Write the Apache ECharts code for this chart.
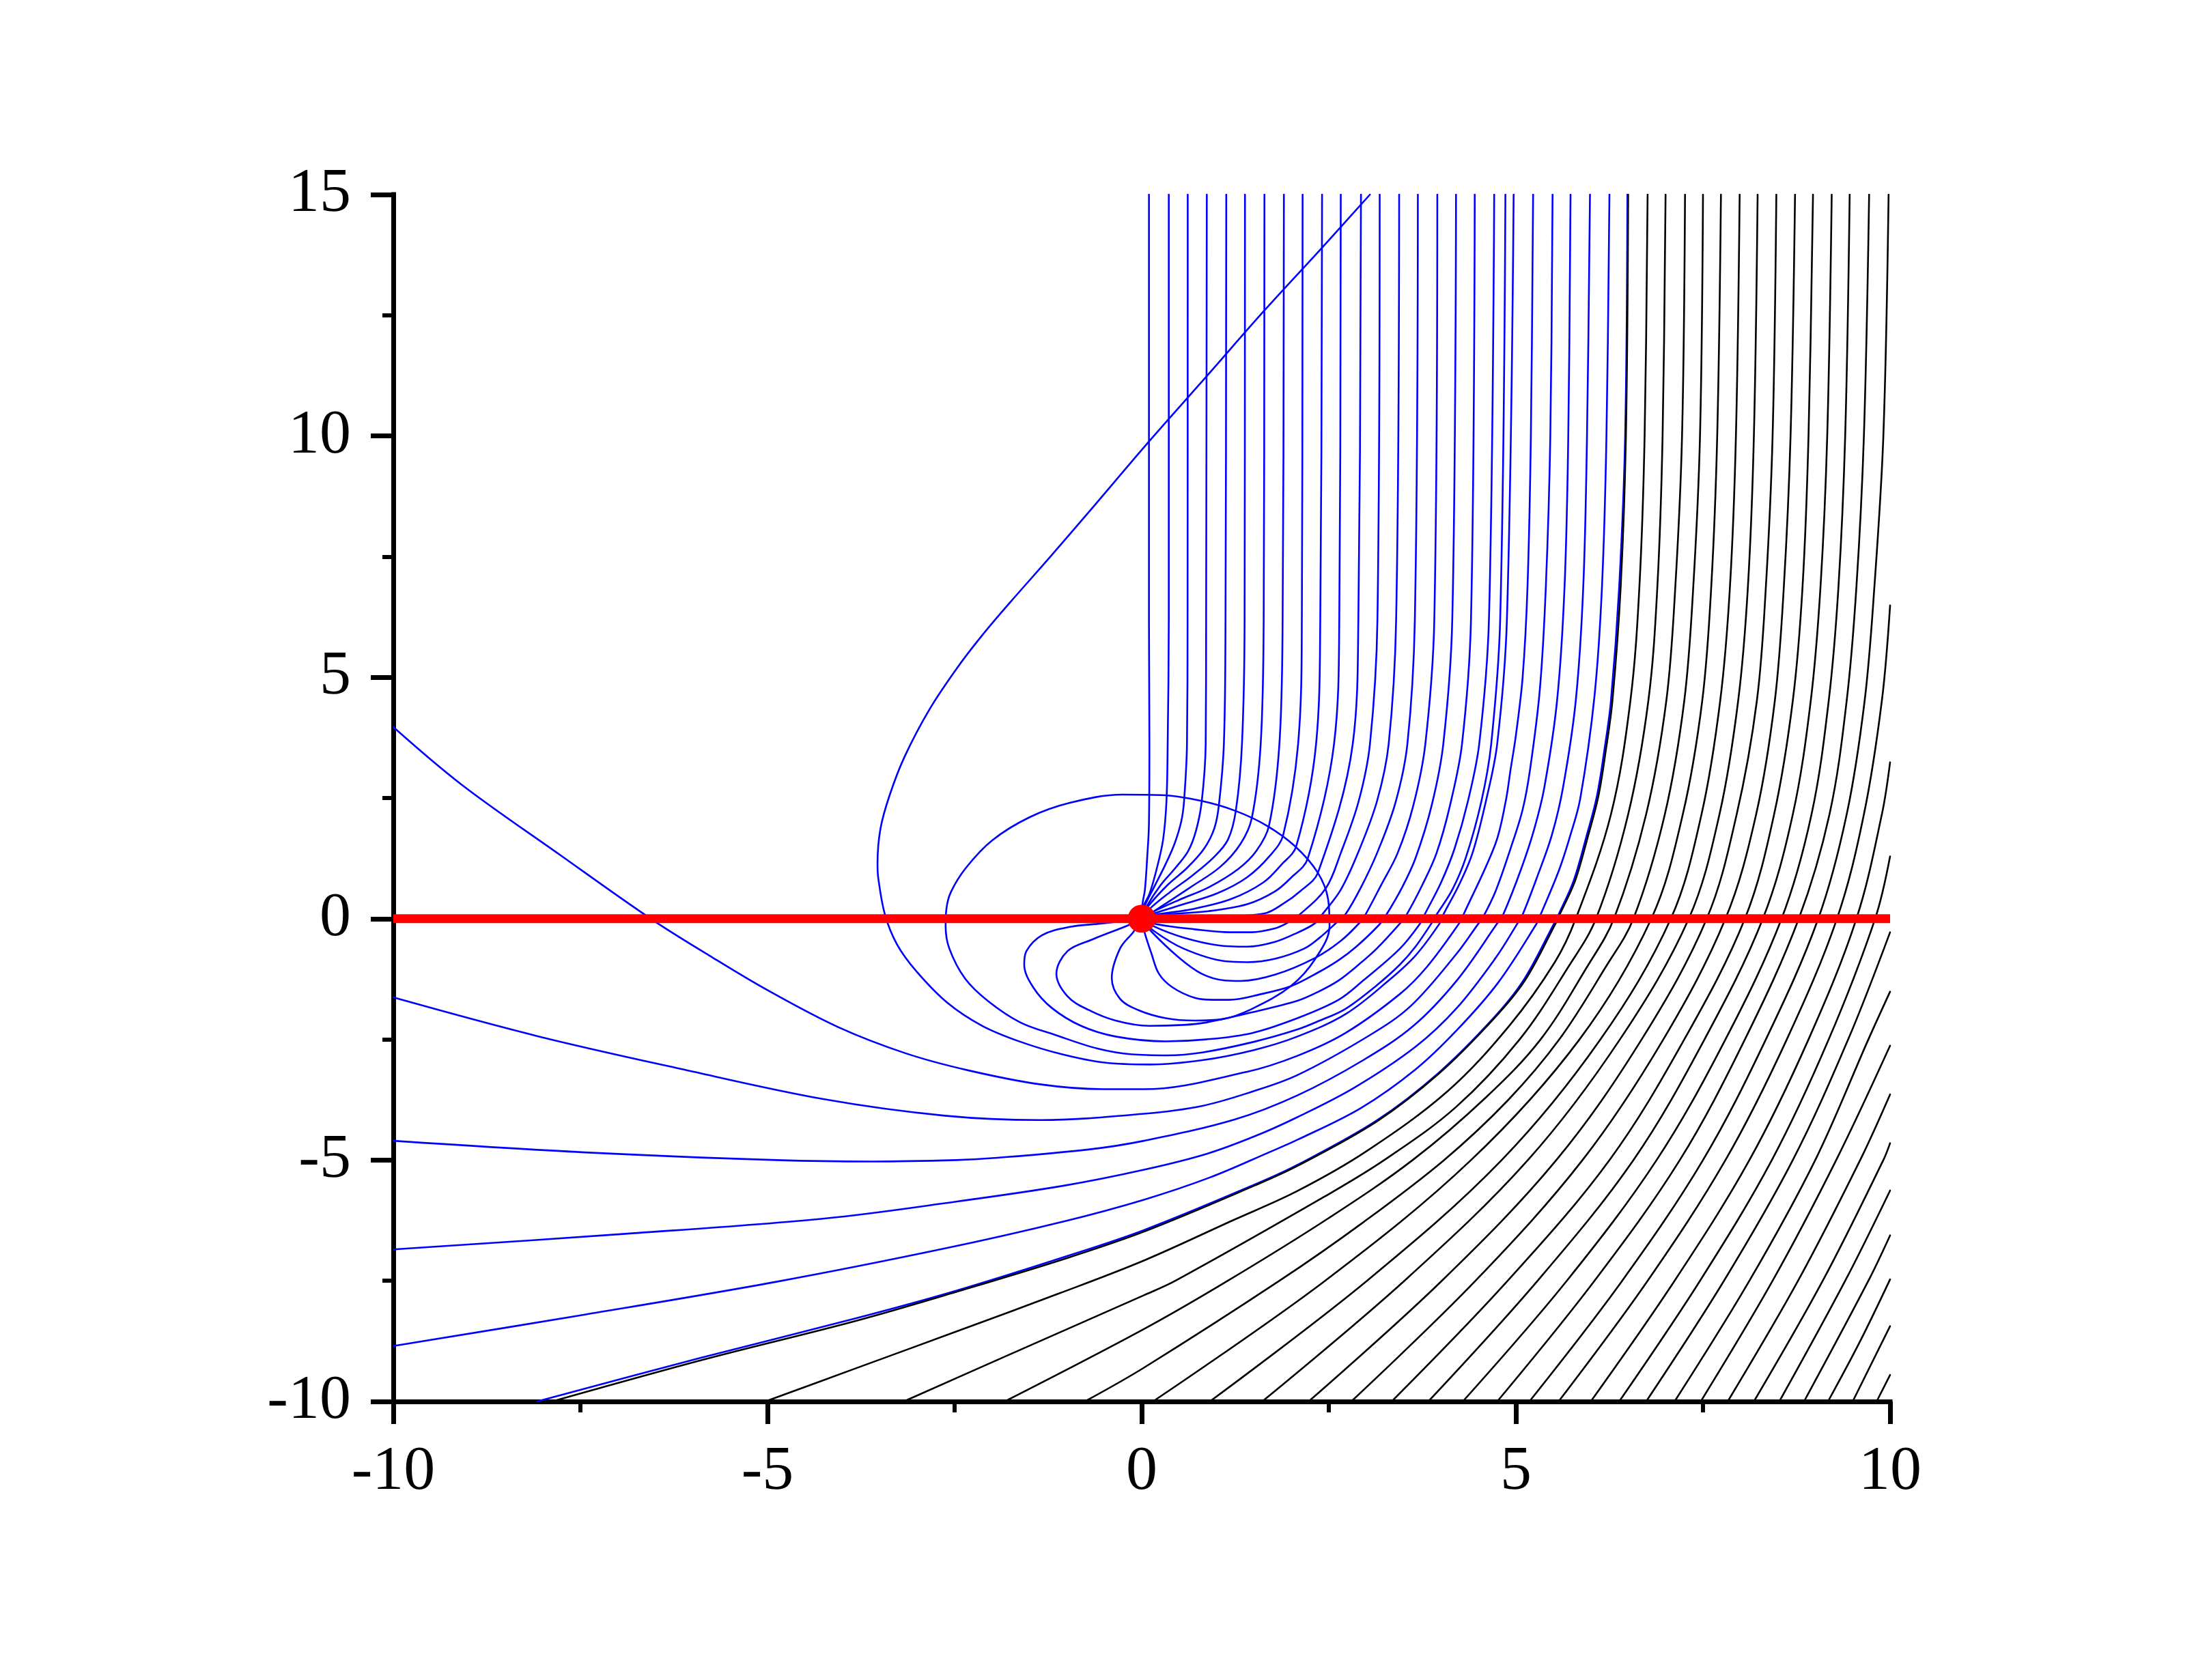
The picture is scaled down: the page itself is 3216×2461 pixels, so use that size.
<!DOCTYPE html>
<html><head><meta charset="utf-8">
<style>html,body{margin:0;padding:0;background:#fff}#c{width:3216px;height:2461px}</style>
<script src="https://cdn.jsdelivr.net/npm/echarts@6/dist/echarts.min.js"></script>
</head><body><div id="c"></div>
<script>
const xTicks=[-10,-5,0,5,10];
const yTicks=[-10,-5,0,5,10,15];
// blue fan from the origin
const F1=[[0,0],[.012,.32],[.043,.6],[.073,1.26],[.097,1.97],[.103,3.62],[.097,6.2],[.097,10],[.097,15]];
const F2=[[0,0],[.027,.27],[.103,.51],[.2,1.03],[.286,1.64],[.331,2.44],[.347,3.62],[.362,6.2],[.362,15]];
const F3=[[0,0],[.043,.27],[.164,.65],[.316,1.12],[.438,1.55],[.529,2.02],[.566,2.44],[.605,3.62],[.613,6.2],[.615,15]];
const F4=[[0,0],[.073,.27],[.255,.7],[.438,1.03],[.62,1.4],[.727,1.83],[.803,2.44],[.855,3.62],[.861,6.2],[.87,15]];
const F5=[[0,0],[.073,.23],[.347,.7],[.605,1.05],[.833,1.45],[.97,1.87],[1.031,2.35],[1.098,3.62],[1.12,6.2],[1.13,15]];
const F6=[[0,0],[.103,.2],[.377,.55],[.681,.9],[.955,1.26],[1.153,1.64],[1.259,2.25],[1.34,3.62],[1.375,6.2],[1.38,15]];
const F7=[[0,0],[.164,.156],[.65,.65],[1.046,1.07],[1.32,1.55],[1.472,2.09],[1.59,3.62],[1.63,6.2],[1.64,15]];
const F8=[[0,0],[.134,.13],[.5,.39],[.894,.65],[1.29,1.03],[1.53,1.4],[1.7,1.92],[1.84,3.62],[1.883,6.2],[1.9,15]];
const F9=[[0,0],[.164,.11],[.56,.3],[1.016,.53],[1.41,.86],[1.716,1.31],[1.89,1.73],[2.09,3.62],[2.14,6.2],[2.15,15]];
const F10=[[0,0],[.195,.085],[.68,.2],[1.198,.41],[1.624,.75],[1.867,1.12],[2.065,1.5],[2.33,3.62],[2.386,6.2],[2.41,15]];
const F11=[[0,0],[.225,.075],[.894,.156],[1.41,.3],[1.776,.56],[1.99,.84],[2.217,1.24],[2.57,3.62],[2.64,6.2],[2.66,15]];
const F12=[[0,0],[.195,.005],[.894,.03],[1.64,.11],[1.9,.32],[2.11,.56],[2.354,.95],[2.82,3.62],[2.895,6.2],[2.93,15]];
// blue curves that dip below the axis first
const M1=[[0,0],[.195,-.113],[.71,-.22],[1.17,-.28],[1.47,-.28],[1.78,-.2],[1.93,-.1],[2.11,.085],[2.46,.63],[2.66,1.36],[2.9,2.44],[3.05,3.62],[3.15,6.2],[3.18,15]];
const M2=[[0,0],[.18,-.17],[.56,-.39],[1.02,-.55],[1.41,-.58],[1.78,-.48],[2.08,-.29],[2.31,-.1],[2.41,.085],[2.66,.6],[2.9,1.4],[3.145,2.44],[3.3,3.62],[3.4,6.2],[3.44,15]];
const M3=[[0,0],[.16,-.25],[.56,-.62],[1.11,-.88],[1.41,-.9],[1.78,-.83],[2.17,-.62],[2.38,-.39],[2.61,-.07],[2.72,.085],[2.93,.65],[3.145,1.36],[3.39,2.4],[3.55,3.62],[3.65,6.2],[3.69,15]];
const M4=[[0,0],[.12,-.25],[.5,-.81],[.8,-1.14],[1.11,-1.28],[1.32,-1.29],[1.78,-1.16],[2.32,-.81],[2.66,-.46],[2.92,-.07],[2.99,.085],[3.2,.7],[3.42,1.36],[3.63,2.35],[3.79,3.62],[3.91,6.2],[3.95,15]];
const M5=[[0,0],[.04,-.29],[.13,-.72],[.23,-1.14],[.41,-1.42],[.71,-1.64],[.95,-1.68],[1.17,-1.68],[1.6,-1.56],[1.99,-1.4],[2.35,-1.12],[2.63,-.86],[2.87,-.575],[3.17,-.13],[3.27,.085],[3.48,.65],[3.66,1.26],[3.875,2.35],[4.03,3.62],[4.15,6.2],[4.2,15]];
const M7=[[0,0],[-.17,-.13],[-.66,-.43],[-.99,-.67],[-1.14,-1.14],[-.99,-1.61],[-.71,-1.89],[-.35,-2.11],[.1,-2.22],[.56,-2.2],[.86,-2.15],[1.47,-1.94],[2.08,-1.7],[2.35,-1.52],[2.63,-1.28],[2.9,-.95],[3.14,-.62],[3.45,-.1],[3.54,.085],[3.75,.7],[3.94,1.36],[4.12,2.35],[4.28,3.62],[4.4,6.2],[4.45,15]];
const M8=[[0,0],[-.54,-.1],[-.96,-.17],[-1.33,-.34],[-1.54,-.67],[-1.57,-.95],[-1.45,-1.42],[-1.2,-1.85],[-.81,-2.22],[-.35,-2.44],[.32,-2.54],[.86,-2.5],[1.47,-2.37],[2.08,-2.06],[2.63,-1.68],[2.96,-1.28],[3.45,-.62],[3.72,-.1],[3.78,.085],[4,.75],[4.18,1.45],[4.36,2.44],[4.51,3.62],[4.64,6.2],[4.71,15]];
// the curve that wraps round the origin
const S1=[[0,0],[-.11,-.27],[-.29,-.62],[-.4,-1.23],[-.29,-1.66],[-.05,-1.89],[.32,-2.06],[.71,-2.11],[1.08,-2.08],[1.47,-1.87],[1.99,-1.4],[2.32,-.83],[2.51,-.15],[2.49,.41],[2.35,.96],[2.05,1.5],[1.68,1.92],[1.26,2.23],[.8,2.44],[.26,2.56],[-.26,2.57],[-.96,2.4],[-1.5,2.1],[-2,1.62],[-2.35,1.05],[-2.55,.55],[-2.61,.2],[-2.62,-.15],[-2.57,-.62],[-2.36,-1.24],[-2.05,-1.71],[-1.62,-2.15],[-1.15,-2.41],[-.59,-2.69],[-.13,-2.81],[.34,-2.83],[.81,-2.77],[1.5,-2.55],[2.08,-2.295],[2.38,-2.11],[2.72,-1.87],[3.14,-1.38],[3.45,-.95],[3.66,-.575],[3.87,-.1],[3.94,.085],[4.15,.6],[4.33,1.26],[4.54,2.44],[4.67,3.62],[4.79,6.2],[4.86,15]];
// the curve that leaves through the top edge
const A1=[[3.05,15],[2.41,13.9],[1.64,12.6],[.87,11.24],[.1,9.89],[-.67,8.49],[-1.22,7.5],[-1.76,6.55],[-2.1,5.93],[-2.44,5.25],[-2.83,4.35],[-3.17,3.35],[-3.37,2.55],[-3.49,1.87],[-3.53,1.15],[-3.52,.84],[-3.43,.08],[-3.27,-.53],[-3.01,-1.09],[-2.59,-1.75],[-2.13,-2.22],[-1.62,-2.55],[-1.06,-2.81],[-.5,-2.98],[.11,-3.02],[.81,-2.93],[1.5,-2.72],[2.08,-2.44],[2.73,-1.97],[3.3,-1.28],[3.66,-.76],[3.98,-.1],[4.03,.085],[4.24,.7],[4.42,1.36],[4.6,2.44],[4.75,3.62],[4.88,6.2],[4.97,15]];
// blue curves entering from the left
const L1=[[-10,3.97],[-9.09,2.78],[-7.78,1.33],[-6.56,0],[-5.78,-.76],[-5,-1.48],[-4.05,-2.25],[-3.15,-2.79],[-2.32,-3.14],[-1.36,-3.43],[-.52,-3.53],[.03,-3.53],[1.41,-3.17],[2.08,-2.84],[2.72,-2.37],[3.45,-1.56],[3.81,-1],[4.24,-.1],[4.3,.085],[4.726,1.55],[4.86,2.4],[4.93,3.1],[5,3.8],[5.09,5],[5.155,6.87],[5.2,10],[5.23,15]];
const L2=[[-10,-1.63],[-8.08,-2.43],[-6.16,-3.11],[-4.24,-3.74],[-2.63,-4.08],[-1.36,-4.17],[.03,-4.04],[.8,-3.88],[1.46,-3.59],[2.08,-3.24],[3.05,-2.41],[3.6,-1.8],[4.21,-.72],[4.5,-.1],[4.55,0],[4.726,.56],[4.93,1.46],[5.09,2.26],[5.19,3.1],[5.32,4.75],[5.4,6.87],[5.46,10],[5.49,15]];
const L3=[[-10,-4.6],[-7.44,-4.84],[-4.88,-5],[-3.6,-5.03],[-2.48,-5],[-2,-4.96],[-.71,-4.78],[.03,-4.6],[1.24,-4.16],[2.08,-3.66],[2.96,-2.93],[3.63,-2.22],[4.21,-1.28],[4.75,-.1],[4.83,.085],[5.07,1.03],[5.24,1.83],[5.38,2.72],[5.55,4.515],[5.65,6.87],[5.7,10],[5.73,15]];
const L4=[[-10,-6.85],[-6.93,-6.53],[-4.24,-6.21],[-2.48,-5.86],[-1.04,-5.53],[.03,-5.2],[.87,-4.87],[1.52,-4.5],[2.08,-4.11],[2.84,-3.5],[3.66,-2.65],[4.21,-1.85],[4.73,-.81],[5.02,-.1],[5.09,.085],[5.29,.89],[5.48,1.73],[5.63,2.72],[5.8,4.515],[5.9,6.87],[5.95,10],[5.99,15]];
const L5=[[-10,-8.85],[-7.44,-8.2],[-4.88,-7.52],[-2.63,-6.83],[-1.04,-6.27],[.03,-5.82],[.91,-5.36],[1.7,-4.84],[2.08,-4.58],[2.93,-3.92],[3.66,-3.12],[4.21,-2.31],[4.76,-1.33],[5.27,-.12],[5.33,.085],[5.57,.98],[5.72,1.69],[5.86,2.49],[6.05,4.61],[6.15,6.87],[6.21,10],[6.25,15]];
const SepBlue=[[-8.08,-10],[-5.9,-9.1],[-3.85,-8.29],[-2.51,-7.72],[-1.04,-7.01],[.03,-6.45],[1.52,-5.5],[2.08,-5.1],[3.14,-4.18],[3.97,-3.19],[4.7,-2.06],[5.1,-1.28],[5.51,-.1],[5.57,.085],[5.77,.78],[5.94,1.69],[6.08,2.52],[6.18,3.47],[6.27,4.515],[6.38,6.87],[6.46,10],[6.49,15]];
// black curves
const Sep=[[-7.88,-10],[-5.85,-9.13],[-3.82,-8.33],[-2.48,-7.73],[-1.02,-7.04],[.05,-6.47],[1.52,-5.52],[2.08,-5.12],[3.14,-4.2],[3.97,-3.21],[4.7,-2.08],[5.12,-1.28],[5.53,-.1],[5.585,.085],[5.79,.78],[5.96,1.69],[6.1,2.52],[6.2,3.47],[6.29,4.515],[6.4,6.87],[6.47,10],[6.5,15]];
const B1=[[-5.03,-10],[-3.85,-9.33],[-2.44,-8.53],[-1.1,-7.76],[.03,-7.08],[1.2,-6.26],[2.08,-5.64],[3,-4.82],[4.09,-3.57],[4.91,-2.22],[5.52,-.9],[5.8,0],[6.27,2.16],[6.53,4.515],[6.65,6.87],[6.72,10],[6.76,15]];
const B2=[[-3.18,-10],[-1.8,-9.05],[.03,-7.8],[.45,-7.5],[2.45,-5.75],[3.24,-5],[4.2,-3.9],[5.05,-2.5],[5.7,-1],[6.07,0],[6.5,2.16],[6.77,4.515],[6.89,6.87],[6.96,10],[7,15]];
const B3=[[-1.83,-10],[.03,-8.5],[1.15,-7.5],[2.5,-6.2],[3.62,-5],[4.6,-3.7],[5.33,-2.5],[5.95,-1],[6.31,0],[6.74,2.16],[7.01,4.515],[7.13,6.87],[7.22,10],[7.26,15]];
const B4=[[-.76,-10],[.03,-9.3],[1.84,-7.5],[2.95,-6.3],[4.04,-5],[4.9,-3.75],[5.58,-2.5],[6.2,-1],[6.57,0],[6.99,2.16],[7.25,4.515],[7.37,6.87],[7.46,10],[7.5,15]];
const B5=[[.15,-10],[2.45,-7.5],[4.4,-5],[5.85,-2.5],[6.81,0],[7.23,2.16],[7.49,4.515],[7.61,6.87],[7.69,10],[7.74,15]];
const B6=[[.91,-10],[3.01,-7.5],[4.81,-5],[6.13,-2.5],[7.07,0],[7.48,2.16],[7.73,4.515],[7.86,6.87],[7.94,10],[7.99,15]];
const B7=[[1.61,-10],[3.51,-7.5],[5.16,-5],[6.39,-2.5],[7.31,0],[7.72,2.16],[7.97,4.515],[8.1,6.87],[8.18,10],[8.23,15]];
const B8=[[2.23,-10],[4.01,-7.5],[5.54,-5],[6.68,-2.5],[7.55,0],[7.95,2.16],[8.22,4.515],[8.34,6.87],[8.43,10],[8.48,15]];
const B9=[[2.8,-10],[4.46,-7.5],[5.89,-5],[6.97,-2.5],[7.8,0],[8.21,2.16],[8.46,4.515],[8.58,6.87],[8.67,10],[8.73,15]];
const B10=[[3.34,-10],[4.89,-7.5],[6.25,-5],[7.25,-2.5],[8.06,0],[8.45,2.16],[8.7,4.515],[8.83,6.87],[8.91,10],[8.97,15]];
const B11=[[3.83,-10],[5.29,-7.5],[6.57,-5],[7.52,-2.5],[8.3,0],[8.7,2.16],[8.94,4.515],[9.07,6.87],[9.16,10],[9.22,15]];
const B12=[[4.29,-10],[5.68,-7.5],[6.88,-5],[7.8,-2.5],[8.55,0],[8.95,2.16],[9.18,4.515],[9.31,6.87],[9.4,10],[9.46,15]];
const B13=[[4.75,-10],[6.05,-7.5],[7.19,-5],[8.06,-2.5],[8.78,0],[9.19,2.16],[9.42,4.515],[9.55,6.87],[9.65,10],[9.72,15]];
const B14=[[5.18,-10],[6.42,-7.5],[7.5,-5],[8.34,-2.5],[9.04,0],[9.42,2.16],[9.66,4.515],[9.79,6.87],[9.91,10],[9.98,15]];
const B15=[[5.57,-10],[6.76,-7.5],[7.8,-5],[8.62,-2.5],[9.29,0],[9.65,2.16],[9.89,4.515],[10,6.49]];
const B16=[[6,-10],[7.12,-7.5],[8.12,-5],[8.91,-2.5],[9.55,0],[9.89,2.16],[10,3.24]];
const B17=[[6.38,-10],[7.46,-7.5],[8.42,-5],[9.18,-2.5],[9.8,0],[10,1.29]];
const B18=[[6.74,-10],[7.78,-7.5],[8.7,-5],[9.44,-2.5],[10,-.28]];
const B19=[[7.12,-10],[8.12,-7.5],[9,-5],[9.71,-2.5],[10,-1.51]];
const B20=[[7.47,-10],[8.43,-7.5],[9.28,-5],[10,-2.63]];
const B21=[[7.83,-10],[8.77,-7.5],[9.6,-5],[10,-3.64]];
const B22=[[8.18,-10],[9.1,-7.5],[9.91,-5],[10,-4.65]];
const B23=[[8.52,-10],[9.4,-7.5],[10,-5.63]];
const B24=[[8.85,-10],[9.71,-7.5],[10,-6.56]];
const B25=[[9.17,-10],[9.6,-8.75],[10,-7.47]];
const B26=[[9.5,-10],[10,-8.44]];
const B27=[[9.82,-10],[10,-9.45]];
const axisRay=[[-10,0],[10,0]];
const origin=[[0,0]];
const blueCurves=[F1,F2,F3,F4,F5,F6,F7,F8,F9,F10,F11,F12,M1,M2,M3,M4,M5,M7,M8,S1,A1,L1,L2,L3,L4,L5,SepBlue];
const blackCurves=[Sep,B1,B2,B3,B4,B5,B6,B7,B8,B9,B10,B11,B12,B13,B14,B15,B16,B17,B18,B19,B20,B21,B22,B23,B24,B25,B26,B27];

const curve=(d,color,z)=>({type:'line',data:d,smooth:.35,smoothMonotone:null,showSymbol:false,symbol:'none',z,silent:true,
  lineStyle:{color,width:2.6,cap:'round',join:'round'}});
const font={fontFamily:'Liberation Serif',fontSize:92,color:'#000'};
const axisCommon={type:'value',interval:5,splitLine:{show:false},
  axisLine:{show:true,onZero:false,lineStyle:{color:'#000',width:7,cap:'square'}},
  axisTick:{show:true,inside:false,length:33,lineStyle:{color:'#000',width:7}},
  minorTick:{show:true,splitNumber:2,length:16,lineStyle:{color:'#000',width:6}},
  minorSplitLine:{show:false},
  axisLabel:{...font,showMinLabel:true,showMaxLabel:true,hideOverlap:false}};
const chart=echarts.init(document.getElementById('c'),null,{renderer:'canvas'});
chart.setOption({
  animation:false,backgroundColor:'#fff',
  grid:{left:576,top:285,width:2192,height:1768,containLabel:false,show:false},
  xAxis:{...axisCommon,min:xTicks[0],max:xTicks[xTicks.length-1],axisLabel:{...axisCommon.axisLabel,margin:58}},
  yAxis:{...axisCommon,min:yTicks[0],max:yTicks[yTicks.length-1],axisLabel:{...axisCommon.axisLabel,margin:62}},
  series:[
    ...blueCurves.map(d=>curve(d,'#0000FF',2)),
    ...blackCurves.map(d=>curve(d,'#000000',3)),
    {type:'line',data:axisRay,showSymbol:false,symbol:'none',z:4,silent:true,lineStyle:{color:'#FF0000',width:13}},
    {type:'scatter',data:origin,symbol:'circle',symbolSize:41,z:5,silent:true,itemStyle:{color:'#FF0000',opacity:1}}
  ]
});
</script></body></html>
